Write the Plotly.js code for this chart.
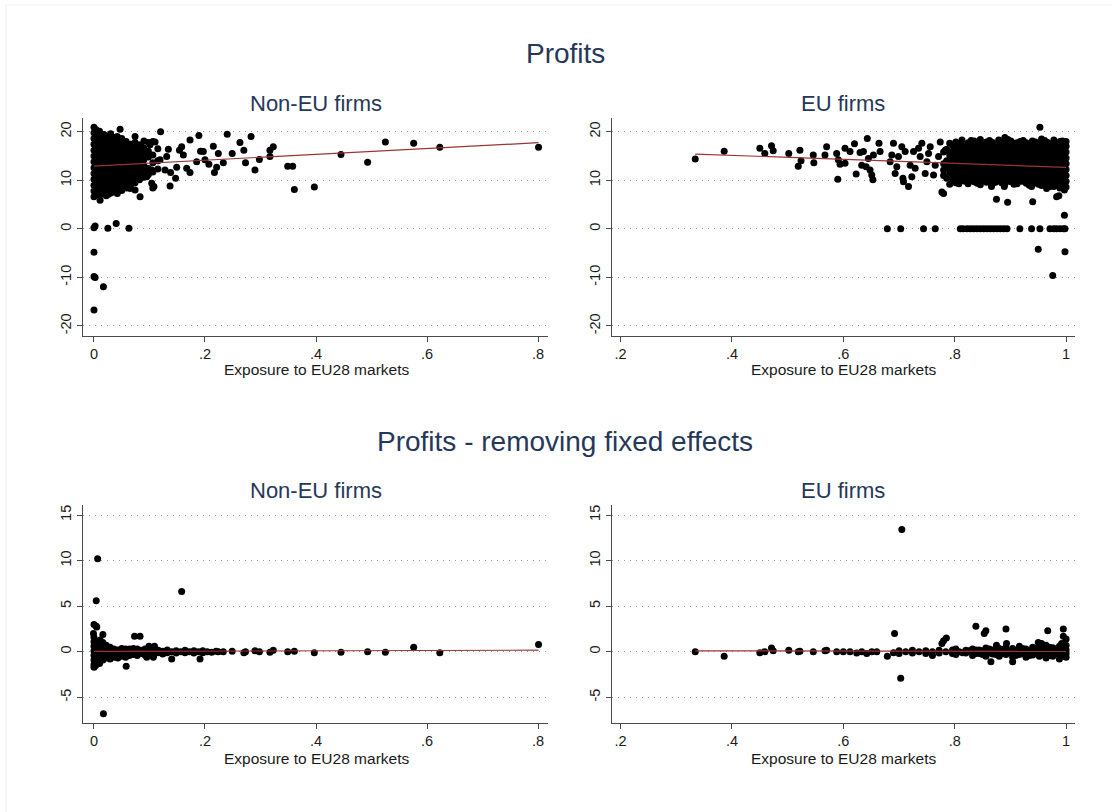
<!DOCTYPE html>
<html>
<head>
<meta charset="utf-8">
<script src="https://cdn.plot.ly/plotly-3.0.1.min.js"></script>
<style>
  html, body { margin: 0; padding: 0; background: #ffffff; }
  #chart { width: 1112px; height: 812px; }
</style>
</head>
<body>
<div id="chart"></div>
<script>
// ---------------- DATA ----------------
const mainTitles = ["Profits", "Profits - removing fixed effects"];
const panelTitles = ["Non-EU firms", "EU firms"];
const xAxisTitle = "Exposure to EU28 markets";

const xTicksNonEU = [0, 0.2, 0.4, 0.6, 0.8];
const xTickTextNonEU = ["0", ".2", ".4", ".6", ".8"];
const xTicksEU = [0.2, 0.4, 0.6, 0.8, 1];
const xTickTextEU = [".2", ".4", ".6", ".8", "1"];
const yTicksProfits = [-20, -10, 0, 10, 20];
const yTickTextProfits = ["-20", "-10", "0", "10", "20"];
const yTicksResid = [-5, 0, 5, 10, 15];
const yTickTextResid = ["-5", "0", "5", "10", "15"];

// Panel 1: Profits, Non-EU firms — dense cluster columns [x, [y...]]
const nonEuProfitCols = [
  [0.000, [6.6, 7.8, 9.0, 10.2, 11.4, 12.6, 13.8, 15.0, 16.2, 17.4, 18.6, 19.8, 20.9]],
  [0.004, [7.2, 8.4, 9.6, 10.8, 12.0, 13.2, 14.4, 15.6, 16.8, 18.0, 19.2, 20.4]],
  [0.007, [7.5, 8.7, 9.9, 11.1, 12.3, 13.5, 14.7, 15.9, 17.1, 18.3, 19.5]],
  [0.010, [6.9, 8.1, 9.3, 10.5, 11.7, 12.9, 14.1, 15.3, 16.5, 17.7, 18.9, 20.1]],
  [0.014, [7.2, 8.4, 9.6, 10.8, 12.0, 13.2, 14.4, 15.6, 16.8, 18.0, 19.2]],
  [0.018, [7.5, 8.7, 9.9, 11.1, 12.3, 13.5, 14.7, 15.9, 17.1, 18.3, 19.4]],
  [0.022, [6.8, 8.0, 9.2, 10.4, 11.6, 12.8, 14.0, 15.2, 16.4, 17.6, 18.8]],
  [0.026, [7.1, 8.3, 9.5, 10.7, 11.9, 13.1, 14.3, 15.5, 16.7, 17.9, 19.0]],
  [0.030, [7.4, 8.6, 9.8, 11.0, 12.2, 13.4, 14.6, 15.8, 17.0, 18.2, 19.6]],
  [0.034, [7.6, 8.8, 10.0, 11.2, 12.4, 13.6, 14.8, 16.0, 17.2, 18.4]],
  [0.038, [8.0, 9.2, 10.4, 11.6, 12.8, 14.0, 15.2, 16.4, 17.6, 18.8]],
  [0.042, [7.3, 8.5, 9.7, 10.9, 12.1, 13.3, 14.5, 15.7, 16.9, 18.1, 19.0]],
  [0.046, [8.3, 9.5, 10.7, 11.9, 13.1, 14.3, 15.5, 16.7, 17.9]],
  [0.050, [7.9, 9.1, 10.3, 11.5, 12.7, 13.9, 15.1, 16.3, 17.5, 18.6]],
  [0.054, [8.8, 10.0, 11.2, 12.4, 13.6, 14.8, 16.0, 17.2]],
  [0.058, [8.4, 9.6, 10.8, 12.0, 13.2, 14.4, 15.6, 16.8, 18.0]],
  [0.062, [9.6, 11.0, 12.2, 13.4, 14.6, 15.8, 17.0]],
  [0.066, [9.0, 10.2, 11.4, 12.6, 13.8, 15.0, 16.2, 17.4]],
  [0.070, [10.4, 11.6, 13.5, 14.9, 16.4]],
  [0.074, [9.5, 10.7, 11.9, 13.1, 14.3, 15.5, 16.7, 17.8]],
  [0.078, [11.0, 12.3, 15.1, 17.2]],
  [0.082, [10.1, 11.3, 12.5, 13.7, 14.9, 16.1, 17.3]],
  [0.086, [12.0, 14.5, 16.9]],
  [0.090, [10.6, 11.8, 13.0, 14.2, 15.4, 16.6, 18.1]],
  [0.098, [11.2, 12.4, 14.8, 16.0, 17.8]],
  [0.106, [11.7, 13.6, 15.2, 18.0]],
  [0.115, [12.3, 14.0, 16.5]]
];
const nonEuProfitPts = [
  [0.801, 16.8], [0.623, 16.8], [0.576, 17.6], [0.525, 17.9], [0.493, 13.7], [0.445, 15.3],
  [0.397, 8.6], [0.361, 8.1], [0.349, 12.9], [0.358, 12.9], [0.323, 16.9], [0.317, 16.2],
  [0.317, 14.9], [0.298, 14.3], [0.290, 12.1], [0.283, 19.0], [0.273, 13.6], [0.270, 16.2],
  [0.263, 17.8], [0.249, 15.5], [0.240, 19.5], [0.233, 13.6], [0.224, 15.5], [0.217, 11.6],
  [0.221, 12.7], [0.215, 17.0], [0.207, 13.3], [0.200, 14.2], [0.197, 15.9], [0.189, 19.2],
  [0.192, 16.0], [0.185, 13.8], [0.173, 18.3], [0.173, 11.6], [0.167, 12.5], [0.161, 15.2],
  [0.158, 16.9], [0.154, 16.2], [0.149, 12.7], [0.147, 10.4], [0.137, 8.8], [0.138, 11.6],
  [0.134, 16.4], [0.131, 14.9], [0.128, 12.1], [0.120, 20.0], [0.119, 14.2], [0.110, 17.9],
  [0.108, 8.7], [0.101, 17.3], [0.104, 12.1], [0.095, 10.7], [0.083, 6.6], [0.074, 19.0],
  [0.074, 8.0], [0.047, 20.5], [0.065, 8.3], [0.011, 5.9], [0.104, 9.4], [0.106, 8.4],
  [0.000, 0.2], [0.002, 0.6], [0.025, 0.1], [0.040, 1.1], [0.063, 0.1],
  [0.000, -4.8], [0.000, -9.8], [0.002, -10.0], [0.017, -11.9], [0.000, -16.7]
];
const nonEuProfitFit = [[0.0, 12.93], [0.801, 17.74]];

// Panel 2: Profits, EU firms
const euProfitCols = [
  [0.780, [11.0, 13.4, 15.8]],
  [0.7855, [10.4, 12.8, 14.0, 16.4]],
  [0.791, [9.2, 11.6, 12.8, 14.0, 15.2, 17.6]],
  [0.7965, [9.9, 11.1, 12.3, 13.5, 14.7, 15.9, 17.1]],
  [0.802, [9.5, 10.7, 11.9, 13.1, 14.3, 15.5, 16.7, 17.9]],
  [0.8075, [9.3, 10.5, 11.7, 12.9, 14.1, 15.3, 16.5, 17.5]],
  [0.813, [10.0, 11.2, 12.4, 13.6, 14.8, 16.0, 17.2, 18.3]],
  [0.8185, [9.8, 11.0, 12.2, 13.4, 14.6, 15.8, 17.0]],
  [0.824, [9.3, 10.5, 11.7, 12.9, 14.1, 15.3, 16.5, 17.7]],
  [0.8295, [10.2, 11.4, 12.6, 13.8, 15.0, 16.2, 17.4, 18.2]],
  [0.835, [9.7, 10.9, 12.1, 13.3, 14.5, 15.7, 16.9, 18.1]],
  [0.8405, [9.4, 10.6, 11.8, 13.0, 14.2, 15.4, 16.6, 17.8]],
  [0.846, [9.1, 10.3, 11.5, 12.7, 13.9, 15.1, 16.3, 17.5, 18.4]],
  [0.8515, [9.9, 11.1, 12.3, 13.5, 14.7, 15.9, 17.1]],
  [0.857, [9.6, 10.8, 12.0, 13.2, 14.4, 15.6, 16.8, 17.9]],
  [0.8625, [10.2, 11.4, 12.6, 13.8, 15.0, 16.2, 17.4, 18.2]],
  [0.868, [9.4, 10.6, 11.8, 13.0, 14.2, 15.4, 16.6, 17.8]],
  [0.8735, [9.6, 10.8, 12.0, 13.2, 14.4, 15.6, 16.8]],
  [0.879, [9.9, 11.1, 12.3, 13.5, 14.7, 15.9, 17.1, 18.3]],
  [0.8845, [9.5, 10.7, 11.9, 13.1, 14.3, 15.5, 16.7, 17.9]],
  [0.890, [9.2, 10.4, 11.6, 12.8, 14.0, 15.2, 16.4, 17.6, 18.8]],
  [0.8955, [9.9, 11.1, 12.3, 13.5, 14.7, 15.9, 17.1, 18.4]],
  [0.901, [9.7, 10.9, 12.1, 13.3, 14.5, 15.7, 16.9, 18.1]],
  [0.9065, [9.2, 10.4, 11.6, 12.8, 14.0, 15.2, 16.4, 17.6]],
  [0.912, [9.3, 10.5, 11.7, 12.9, 14.1, 15.3, 16.5, 17.7]],
  [0.9175, [9.8, 11.0, 12.2, 13.4, 14.6, 15.8, 17.0, 18.0]],
  [0.923, [9.8, 11.0, 12.2, 13.4, 14.6, 15.8, 17.0, 18.2]],
  [0.9285, [9.4, 10.6, 11.8, 13.0, 14.2, 15.4, 16.6, 17.7]],
  [0.934, [9.0, 10.2, 11.4, 12.6, 13.8, 15.0, 16.2, 17.4]],
  [0.9395, [9.7, 10.9, 12.1, 13.3, 14.5, 15.7, 16.9, 18.1]],
  [0.945, [9.5, 10.7, 11.9, 13.1, 14.3, 15.5, 16.7, 17.9]],
  [0.9505, [9.2, 10.4, 11.6, 12.8, 14.0, 15.2, 16.4, 17.6]],
  [0.956, [8.9, 10.1, 11.3, 12.5, 13.7, 14.9, 16.1, 17.3, 18.5]],
  [0.9615, [9.8, 11.0, 12.2, 13.4, 14.6, 15.8, 17.0, 18.2]],
  [0.967, [9.4, 10.6, 11.8, 13.0, 14.2, 15.4, 16.6, 17.8]],
  [0.9725, [9.0, 10.2, 11.4, 12.6, 13.8, 15.0, 16.2, 17.4]],
  [0.978, [8.7, 9.9, 11.1, 12.3, 13.5, 14.7, 15.9, 17.1, 18.3]],
  [0.9835, [9.1, 10.3, 11.5, 12.7, 13.9, 15.1, 16.3, 17.5]],
  [0.989, [8.4, 9.6, 10.8, 12.0, 13.2, 14.4, 15.6, 16.8, 18.0]],
  [0.9935, [8.8, 10.0, 11.2, 12.4, 13.6, 14.8, 16.0, 17.2, 18.1]],
  [0.997, [8.0, 9.2, 10.4, 11.6, 12.8, 14.0, 15.2, 16.4, 17.6]],
  [1.000, [8.6, 9.8, 11.0, 12.2, 13.4, 14.6, 15.8, 17.0, 18.0]]
];
const euProfitPts = [
  [0.334, 14.4], [0.386, 16.0], [0.450, 16.6], [0.459, 15.5], [0.471, 17.1], [0.474, 16.1],
  [0.502, 15.5], [0.519, 12.9], [0.522, 16.2], [0.524, 14.0], [0.546, 15.2], [0.547, 13.6],
  [0.567, 15.2], [0.570, 16.9], [0.588, 15.5], [0.590, 10.2], [0.591, 14.2], [0.594, 13.3],
  [0.603, 13.5], [0.603, 16.6], [0.612, 15.9], [0.620, 17.5], [0.623, 11.3], [0.630, 15.7],
  [0.633, 13.1], [0.636, 15.9], [0.641, 12.8], [0.643, 18.6], [0.645, 14.5], [0.648, 12.1],
  [0.651, 11.1], [0.653, 10.1], [0.654, 15.2], [0.664, 17.6], [0.666, 15.9], [0.684, 13.8],
  [0.687, 15.2], [0.690, 17.6], [0.693, 11.4], [0.696, 12.8], [0.699, 14.9], [0.705, 16.9],
  [0.707, 10.4], [0.708, 9.7], [0.711, 15.9], [0.717, 8.7], [0.720, 13.1], [0.723, 10.7],
  [0.726, 15.9], [0.729, 12.5], [0.735, 16.6], [0.738, 14.9], [0.741, 17.6], [0.747, 11.4],
  [0.750, 13.8], [0.753, 15.5], [0.756, 16.9], [0.762, 11.1], [0.765, 13.1], [0.771, 14.9],
  [0.774, 17.9], [0.777, 7.6], [0.780, 7.3], [0.780, 12.1], [0.783, 16.2], [0.786, 13.8],
  [0.875, 6.1], [0.895, 5.5], [0.940, 5.6], [0.997, 2.8], [0.950, -4.2], [0.998, -4.7],
  [0.976, -9.6], [0.953, 20.9], [0.983, 6.6], [0.987, 6.8], [0.965, 8.3], [0.971, 8.7],
  [0.889, 8.7], [0.938, 8.7], [0.866, 8.7],
  [0.679, 0], [0.703, 0], [0.744, 0], [0.765, 0],
  [0.810, 0], [0.815, 0], [0.822, 0], [0.828, 0], [0.834, 0], [0.840, 0], [0.846, 0],
  [0.852, 0], [0.858, 0], [0.864, 0], [0.870, 0], [0.876, 0], [0.882, 0], [0.888, 0],
  [0.894, 0], [0.917, 0], [0.938, 0], [0.953, 0], [0.971, 0], [0.978, 0], [0.983, 0],
  [0.989, 0], [0.995, 0], [0.998, 0]
];
const euProfitFit = [[0.334, 15.4], [1.0, 12.66]];

// Panel 3: Profits removing fixed effects, Non-EU firms
const nonEuResidCols = [
  [0.000, [-1.4, -0.9, -0.4, 0.1, 0.6, 1.1, 1.6]],
  [0.005, [-1.1, -0.6, -0.1, 0.4, 0.9]],
  [0.010, [-1.3, -0.8, -0.3, 0.2, 0.7]],
  [0.016, [-0.9, -0.4, 0.1, 0.6, 1.0]],
  [0.022, [-0.7, -0.2, 0.3, 0.7]],
  [0.029, [-0.8, -0.3, 0.2, 0.5]],
  [0.036, [-0.6, -0.1, 0.3]],
  [0.043, [-0.7, -0.2, 0.2]],
  [0.050, [-0.5, 0.0, 0.35]],
  [0.057, [-0.6, -0.1, 0.3]],
  [0.064, [-0.4, 0.05, 0.3]],
  [0.071, [-0.3, 0.1, 0.35]],
  [0.078, [-0.4, 0.0, 0.3]],
  [0.085, [-0.2, 0.15]],
  [0.092, [-0.35, 0.05, 0.3]],
  [0.100, [-0.2, 0.1]],
  [0.108, [-0.3, 0.05, 0.5]],
  [0.116, [-0.1, 0.15]],
  [0.124, [-0.25, 0.05]],
  [0.132, [-0.1, 0.2]],
  [0.140, [0.0]],
  [0.148, [-0.15, 0.1]],
  [0.156, [0.0]],
  [0.164, [-0.1, 0.15]],
  [0.172, [0.0]],
  [0.180, [-0.15, 0.1]],
  [0.188, [0.0]],
  [0.196, [-0.1, 0.1]],
  [0.204, [0.0]],
  [0.212, [-0.05]],
  [0.220, [0.05]]
];
const nonEuResidPts = [
  [0.0066, 10.2], [0.004, 5.6], [0.158, 6.6], [0.000, 3.0], [0.004, 2.8], [0.005, 2.7],
  [-0.001, 2.0], [0.016, 1.9], [0.011, 1.3], [0.073, 1.7], [0.083, 1.7], [0.017, -6.8],
  [0.058, -1.6], [0.801, 0.8], [0.576, 0.5], [0.623, -0.1], [0.525, -0.05], [0.493, 0.0],
  [0.445, -0.05], [0.397, -0.1], [0.361, 0.05], [0.349, 0.0], [0.323, 0.15], [0.317, -0.05],
  [0.298, 0.0], [0.290, 0.1], [0.273, 0.0], [0.270, -0.1], [0.249, 0.05], [0.233, 0.0],
  [0.224, 0.0], [0.140, -0.8], [0.191, -0.8], [0.099, 0.6], [0.109, 0.6], [0.000, -1.7],
  [0.003, -1.5], [0.107, -0.6], [0.095, -0.6]
];
const nonEuResidFit = [[0.0, 0.03], [0.801, 0.17]];

// Panel 4: Profits removing fixed effects, EU firms
const euResidCols = [
  [0.690, [-0.1]],
  [0.700, [0.1, -0.2]],
  [0.712, [0.0]],
  [0.724, [-0.15, 0.15]],
  [0.736, [0.0]],
  [0.748, [-0.2, 0.1]],
  [0.760, [0.0, -0.4]],
  [0.772, [-0.15, 0.15]],
  [0.784, [0.0]],
  [0.796, [-0.2, 0.2]],
  [0.802, [-0.3, 0.3]],
  [0.808, [0.0]],
  [0.814, [-0.1]],
  [0.820, [-0.15, 0.15]],
  [0.826, [0.1]],
  [0.832, [-0.4, 0.0, 0.3]],
  [0.838, [-0.2, 0.2]],
  [0.844, [-0.2, 0.2]],
  [0.850, [-0.3, 0.1]],
  [0.856, [-0.5, 0.0, 0.4]],
  [0.862, [-0.1, 0.3]],
  [0.868, [-0.25, 0.2]],
  [0.874, [-0.3, 0.15]],
  [0.880, [-0.5, 0.0, 0.35]],
  [0.886, [-0.2, 0.25]],
  [0.892, [-0.3, 0.2, 0.5]],
  [0.898, [-0.1]],
  [0.904, [-0.6, -0.1, 0.35]],
  [0.910, [-0.4, 0.1]],
  [0.916, [-0.3, 0.15, 0.6]],
  [0.922, [-0.2, 0.35]],
  [0.928, [-0.6, -0.1, 0.3]],
  [0.934, [-0.4, 0.1]],
  [0.940, [-0.35, 0.1, 0.5]],
  [0.946, [-0.2, 0.3]],
  [0.952, [-0.5, 0.0, 0.4, 0.9]],
  [0.958, [-0.3, 0.2]],
  [0.964, [-0.7, -0.2, 0.25, 0.7]],
  [0.970, [-0.4, 0.1, 0.5]],
  [0.976, [-0.5, 0.0, 0.45]],
  [0.982, [-0.2, 0.3]],
  [0.988, [-0.8, -0.3, 0.15, 0.6]],
  [0.992, [-0.3, 0.2, 0.9]],
  [0.996, [-0.5, 0.0, 0.4]],
  [1.000, [-0.6, -0.2, 0.2, 0.7]]
];
const euResidPts = [
  [0.705, 13.4], [0.703, -2.9], [0.692, 2.0], [0.334, 0.0], [0.386, -0.5], [0.450, -0.1],
  [0.459, 0.0], [0.471, 0.4], [0.474, 0.1], [0.502, 0.15], [0.519, 0.0], [0.522, 0.05],
  [0.546, 0.0], [0.567, 0.1], [0.570, 0.15], [0.588, 0.0], [0.600, 0.0], [0.612, 0.0],
  [0.624, -0.15], [0.633, 0.0], [0.642, -0.2], [0.651, 0.0], [0.660, 0.0], [0.679, -0.5],
  [0.780, 1.2], [0.785, 1.5], [0.777, 0.9], [0.838, 2.8], [0.853, 2.0], [0.856, 2.3],
  [0.892, 2.5], [0.893, 0.9], [0.865, -1.1], [0.904, -1.1], [0.967, 2.3], [0.995, 2.5],
  [0.995, 1.7], [1.000, 1.4], [0.950, 1.0], [0.956, 0.9], [0.875, 0.7]
];
const euResidFit = [[0.334, 0.1], [1.0, 0.03]];

// ---------------- BUILD ----------------
function flatten(cols, pts) {
  const xs = [], ys = [];
  cols.forEach(c => c[1].forEach(v => { xs.push(c[0]); ys.push(v); }));
  pts.forEach(p => { xs.push(p[0]); ys.push(p[1]); });
  return { xs, ys };
}

const W = 1112, H = 812;
const px2x = p => p / W;
const py2y = p => 1 - p / H;

const panels = [
  { cols: nonEuProfitCols, pts: nonEuProfitPts, fit: nonEuProfitFit, xa: 'x', ya: 'y' },
  { cols: euProfitCols, pts: euProfitPts, fit: euProfitFit, xa: 'x2', ya: 'y2' },
  { cols: nonEuResidCols, pts: nonEuResidPts, fit: nonEuResidFit, xa: 'x3', ya: 'y3' },
  { cols: euResidCols, pts: euResidPts, fit: euResidFit, xa: 'x4', ya: 'y4' }
];

const traces = [];
panels.forEach(p => {
  const d = flatten(p.cols, p.pts);
  traces.push({
    type: 'scatter', mode: 'markers', x: d.xs, y: d.ys,
    xaxis: p.xa, yaxis: p.ya,
    marker: { color: '#000000', size: 7, line: { width: 0 } },
    hoverinfo: 'skip', showlegend: false
  });
});
panels.forEach(p => {
  traces.push({
    type: 'scatter', mode: 'lines',
    x: p.fit.map(q => q[0]), y: p.fit.map(q => q[1]),
    xaxis: p.xa, yaxis: p.ya,
    line: { color: '#9a3535', width: 1.2 },
    hoverinfo: 'skip', showlegend: false
  });
});

const tickFont = { family: 'Liberation Sans, Arial, sans-serif', size: 14.5, color: '#1a1a1a' };
const lineCol = '#4a4a4a';

function xAxis(domain, range, vals, text) {
  return {
    domain: domain, range: range, tickmode: 'array', tickvals: vals, ticktext: text,
    showgrid: false, zeroline: false, showline: true, linecolor: lineCol, linewidth: 1,
    ticks: 'outside', ticklen: 5, tickcolor: lineCol, tickwidth: 1, tickfont: tickFont,
    fixedrange: true
  };
}
function yAxis(domain, range, vals, text) {
  return {
    domain: domain, range: range, tickmode: 'array', tickvals: vals, ticktext: text,
    showgrid: true, gridcolor: '#9a9a9a', griddash: '1px,5px', gridwidth: 1,
    zeroline: false, showline: true, linecolor: lineCol, linewidth: 1,
    ticks: 'outside', ticklen: 5, tickcolor: lineCol, tickwidth: 1, tickfont: tickFont,
    tickangle: -90, fixedrange: true
  };
}

const leftDom = [px2x(83), px2x(548)];
const rightDom = [px2x(611.7), px2x(1075)];
const topDom = [py2y(335.7), py2y(118)];
const botDom = [py2y(723), py2y(505)];

const xRangeNonEU = [-0.0198, 0.818];
const xRangeEU = [0.184, 1.016];
const yRangeProfits = [-22.0, 22.82];
const yRangeResid = [-7.82, 16.10];

const titleColor = '#263859';
const fam = 'Liberation Sans, Arial, sans-serif';

function ann(text, xp, yp, size, color) {
  return {
    text: text, xref: 'paper', yref: 'paper', x: px2x(xp), y: py2y(yp),
    xanchor: 'center', yanchor: 'middle', showarrow: false,
    font: { family: fam, size: size, color: color }
  };
}

const annotations = [
  ann(mainTitles[0], 565, 54, 28, titleColor),
  ann(mainTitles[1], 565, 442, 28, titleColor),
  ann(panelTitles[0], 316, 103, 22, titleColor),
  ann(panelTitles[1], 843, 103, 22, titleColor),
  ann(panelTitles[0], 316, 490.5, 22, titleColor),
  ann(panelTitles[1], 843, 490.5, 22, titleColor),
  ann(xAxisTitle, 316, 370, 15.5, '#1a1a1a'),
  ann(xAxisTitle, 843, 370, 15.5, '#1a1a1a'),
  ann(xAxisTitle, 316, 758.5, 15.5, '#1a1a1a'),
  ann(xAxisTitle, 843, 758.5, 15.5, '#1a1a1a')
];

const layout = {
  width: W, height: H,
  margin: { l: 0, r: 0, t: 0, b: 0, pad: 0 },
  paper_bgcolor: '#ffffff', plot_bgcolor: '#ffffff',
  showlegend: false,
  font: { family: fam },
  xaxis: Object.assign(xAxis(leftDom, xRangeNonEU, xTicksNonEU, xTickTextNonEU), { anchor: 'y' }),
  yaxis: Object.assign(yAxis(topDom, yRangeProfits, yTicksProfits, yTickTextProfits), { anchor: 'x' }),
  xaxis2: Object.assign(xAxis(rightDom, xRangeEU, xTicksEU, xTickTextEU), { anchor: 'y2' }),
  yaxis2: Object.assign(yAxis(topDom, yRangeProfits, yTicksProfits, yTickTextProfits), { anchor: 'x2' }),
  xaxis3: Object.assign(xAxis(leftDom, xRangeNonEU, xTicksNonEU, xTickTextNonEU), { anchor: 'y3' }),
  yaxis3: Object.assign(yAxis(botDom, yRangeResid, yTicksResid, yTickTextResid), { anchor: 'x3' }),
  xaxis4: Object.assign(xAxis(rightDom, xRangeEU, xTicksEU, xTickTextEU), { anchor: 'y4' }),
  yaxis4: Object.assign(yAxis(botDom, yRangeResid, yTicksResid, yTickTextResid), { anchor: 'x4' }),
  annotations: annotations,
  shapes: [
    { type: 'line', xref: 'paper', yref: 'paper', x0: px2x(6), x1: px2x(6), y0: 0, y1: py2y(5),
      line: { color: '#f0f0f0', width: 1 } },
    { type: 'line', xref: 'paper', yref: 'paper', x0: px2x(6), x1: 1, y0: py2y(5), y1: py2y(5),
      line: { color: '#f0f0f0', width: 1 } }
  ]
};

Plotly.newPlot('chart', traces, layout, { staticPlot: true, displayModeBar: false });
</script>
</body>
</html>
